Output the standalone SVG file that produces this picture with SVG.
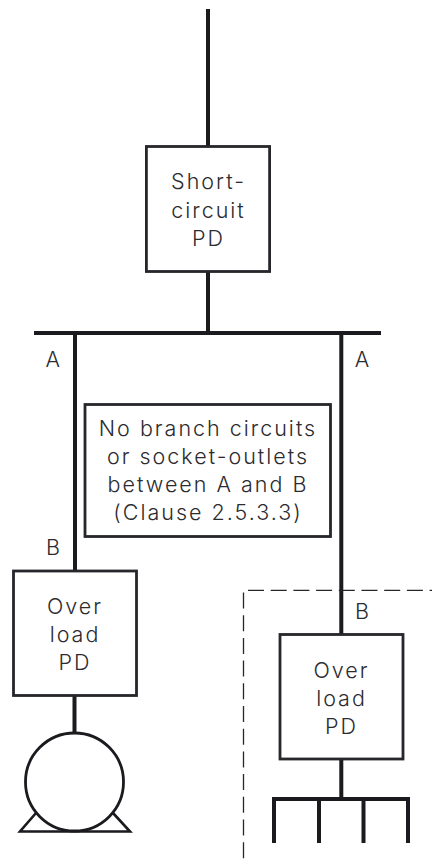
<svg xmlns="http://www.w3.org/2000/svg" width="432" height="865" viewBox="0 0 432 865">
<style>
.w{fill:none;stroke:#1a1a1f;stroke-width:4}
.b{fill:#fff;stroke:#26262b;stroke-width:2.800}
.t{font-family:Inter,"Liberation Sans",Arial,sans-serif;font-weight:300;font-size:21.500px;letter-spacing:2px;fill:#2b2b30;text-anchor:middle}
.l{letter-spacing:0}
</style>
<rect width="432" height="865" fill="#fff"/>
<g id="connectors">
<path class="w" d="M208 9V146M208 272V333M34 333H381M75 333V571M341.300 333V634M74.500 695V733M341.300 759V799"/>
<path class="w" d="M273 799H409.500M274 797V843M319 797V843M363.500 797V843M408 797V843"/>
<path fill="none" stroke="#26262b" stroke-width="1.300" stroke-dasharray="16 6.700" d="M248 590.300H432M243.500 592.500V865"/>
</g>
<g id="short-circuit-pd">
<rect class="b" x="146.400" y="146.500" width="123.200" height="125"/>
<text class="t" x="208.500" y="189">Short-</text>
<text class="t" x="208.500" y="218">circuit</text>
<text class="t" x="208.500" y="246">PD</text>
</g>
<g id="note">
<rect class="b" x="85" y="404.500" width="245.500" height="132"/>
<text class="t" x="208" y="435.500">No branch circuits</text>
<text class="t" x="208" y="463.500">or socket-outlets</text>
<text class="t" x="208" y="491.500">between A and B</text>
<text class="t" x="208" y="520">(Clause 2.5.3.3)</text>
</g>
<g id="overload-left">
<rect class="b" x="13.500" y="571" width="123" height="124.500"/>
<text class="t" x="75" y="614">Over</text>
<text class="t" x="75" y="642">load</text>
<text class="t" x="75" y="670">PD</text>
</g>
<g id="overload-right">
<rect class="b" x="280" y="634.500" width="123" height="124.500"/>
<text class="t" x="341.500" y="677.500">Over</text>
<text class="t" x="341.500" y="706">load</text>
<text class="t" x="341.500" y="734">PD</text>
</g>
<g id="motor">
<path fill="none" stroke="#1a1a1f" stroke-width="2.600" d="M36 813L20 831.500H130L113 813"/>
<circle cx="74.500" cy="782" r="49" fill="#fff" stroke="#1a1a1f" stroke-width="2.800"/>
</g>
<g id="labels">
<text class="t l" x="52.700" y="366.700">A</text>
<text class="t l" x="362" y="366.700">A</text>
<text class="t l" x="53" y="555">B</text>
<text class="t l" x="362" y="619">B</text>
</g>
</svg>
